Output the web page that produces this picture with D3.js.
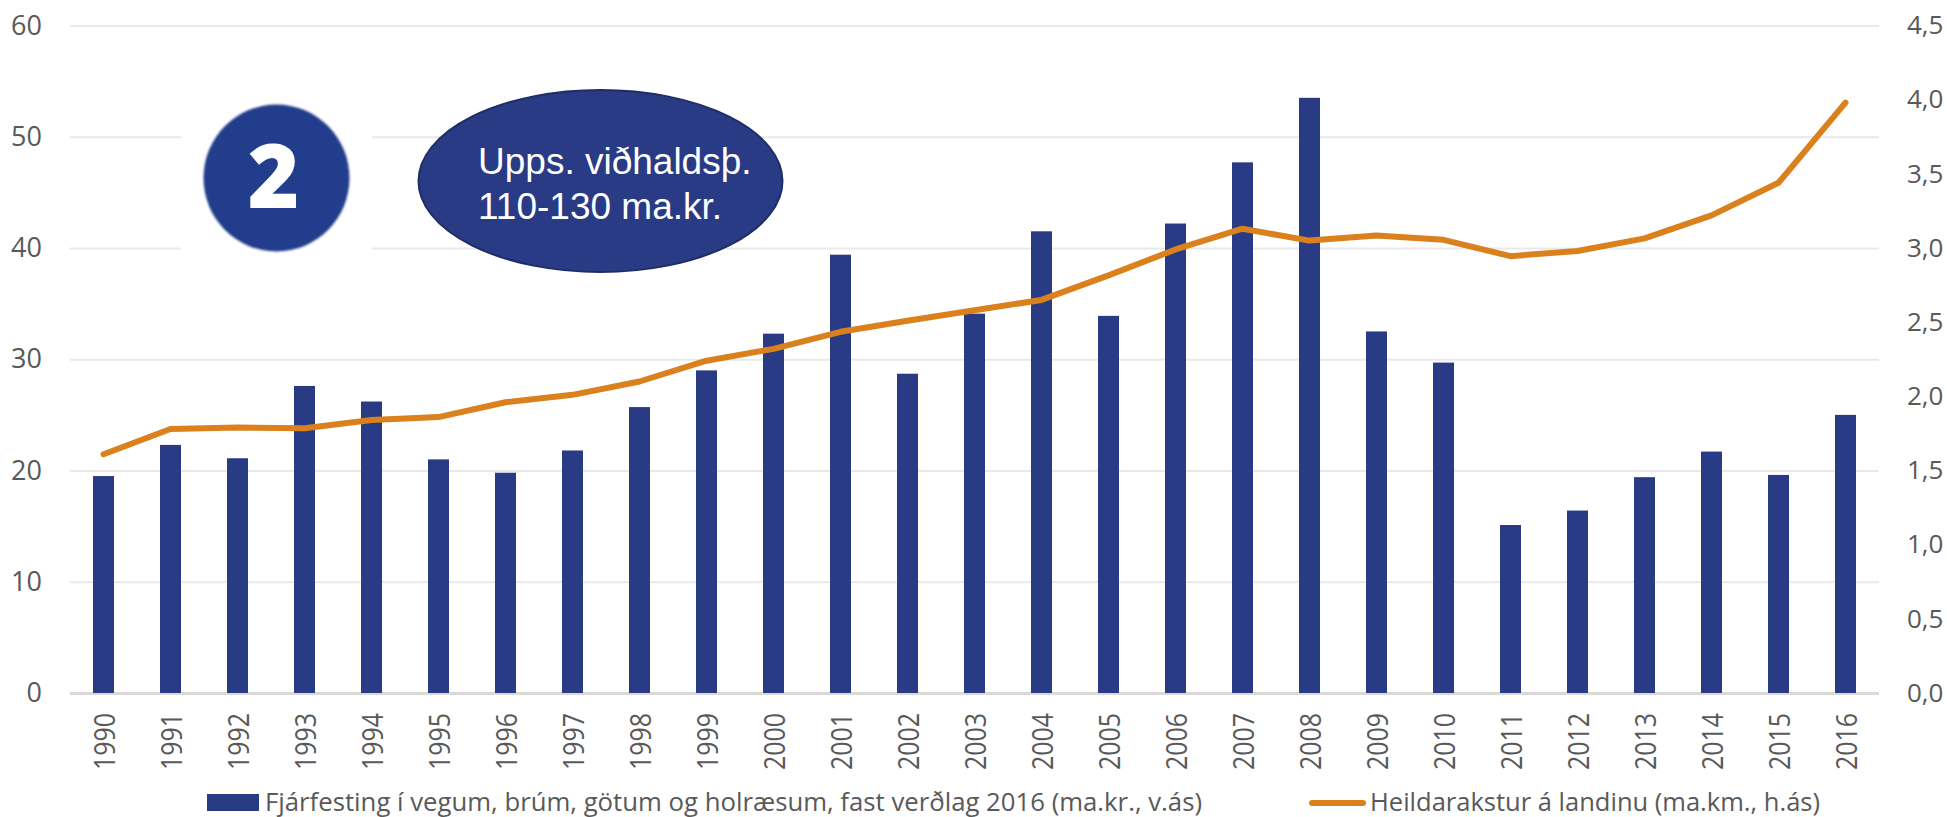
<!DOCTYPE html>
<html>
<head>
<meta charset="utf-8">
<script src="https://cdnjs.cloudflare.com/ajax/libs/d3/7.8.5/d3.min.js"></script>
<style>
  html, body { margin: 0; padding: 0; background: #fff; }
  svg { display: block; }
  text { font-family: "Open Sans", sans-serif; fill: #595959; }
</style>
</head>
<body>
<div id="chart"></div>
<script>
// Chart data
const years = ["1990", "1991", "1992", "1993", "1994", "1995", "1996", "1997", "1998", "1999", "2000", "2001", "2002", "2003", "2004", "2005", "2006", "2007", "2008", "2009", "2010", "2011", "2012", "2013", "2014", "2015", "2016"];
const investment = [19.5, 22.3, 21.1, 27.6, 26.2, 21.0, 19.8, 21.8, 25.7, 29.0, 32.3, 39.4, 28.7, 34.1, 41.5, 33.9, 42.2, 47.7, 53.5, 32.5, 29.7, 15.1, 16.4, 19.4, 21.7, 19.6, 25.0];
const traffic = [1.61, 1.78, 1.79, 1.785, 1.84, 1.86, 1.96, 2.01, 2.10, 2.24, 2.32, 2.435, 2.51, 2.58, 2.65, 2.815, 2.99, 3.13, 3.05, 3.085, 3.055, 2.945, 2.98, 3.065, 3.22, 3.44, 3.98];
const leftTicks = [0, 10, 20, 30, 40, 50, 60];
const rightTicks = [0, 0.5, 1, 1.5, 2, 2.5, 3, 3.5, 4, 4.5];
const barLabel = "Fjárfesting í vegum, brúm, götum og holræsum, fast verðlag 2016 (ma.kr., v.ás)";
const lineLabel = "Heildarakstur á landinu (ma.km., h.ás)";
const noteLines = ["Upps. viðhaldsþ.", "110-130 ma.kr."];

const width = 1947;
const height = 817;
const margin = { top: 25.5, right: 68, bottom: 124, left: 70 };
const innerWidth = width - margin.left - margin.right;
const innerHeight = height - margin.top - margin.bottom;

const svg = d3.select("#chart").append("svg")
    .attr("width", width)
    .attr("height", height);

svg.append("defs").append("filter")
    .attr("id", "soft")
    .append("feGaussianBlur")
    .attr("stdDeviation", 1);

const g = svg.append("g")
    .attr("transform", `translate(${margin.left},${margin.top})`);

const x = d3.scaleBand().domain(years).range([0, innerWidth]);
const yLeft = d3.scaleLinear().domain([0, 60]).range([innerHeight, 0]);
const yRight = d3.scaleLinear().domain([0, 4.5]).range([innerHeight, 0]);

// Gridlines and left axis
g.append("g")
    .call(d3.axisLeft(yLeft).tickValues(leftTicks).tickSize(-innerWidth).tickPadding(28))
    .call(a => a.select(".domain").remove())
    .call(a => a.selectAll(".tick line")
        .attr("stroke", d => d === 0 ? "#d9d9d9" : "#e9e9e9")
        .attr("stroke-width", d => d === 0 ? 3 : 2))
    .call(a => a.selectAll("text").style("font-size", "27px").attr("fill", "#595959"));

// Right axis
g.append("g")
    .attr("transform", `translate(${innerWidth},0)`)
    .call(d3.axisRight(yRight).tickValues(rightTicks).tickSize(0).tickPadding(28)
        .tickFormat(d => d.toFixed(1).replace(".", ",")))
    .call(a => a.select(".domain").remove())
    .call(a => a.selectAll("text").style("font-size", "26px").attr("fill", "#595959"));

// Year labels, squeezed along their length like the original
g.append("g")
    .attr("transform", `translate(0,${innerHeight})`)
    .call(d3.axisBottom(x).tickSize(0).tickPadding(0))
    .call(a => a.select(".domain").remove())
    .call(a => a.selectAll("text")
        .style("font-size", "29px")
        .attr("fill", "#595959")
        .attr("text-anchor", "end")
        .attr("dy", "0.36em")
        .attr("transform", "translate(1,20) rotate(-90) scale(0.86,1)")
        .attr("y", 0));

// White patch behind the pasted number badge
svg.append("rect")
    .attr("x", 181).attr("y", 90)
    .attr("width", 191).attr("height", 175)
    .attr("fill", "#fff");

svg.append("ellipse")
    .attr("cx", 276.5).attr("cy", 178)
    .attr("rx", 73).attr("ry", 73.5)
    .attr("fill", "#233e8b")
    .attr("filter", "url(#soft)");

svg.append("text")
    .attr("x", 273.5).attr("y", 208)
    .attr("text-anchor", "middle")
    .style("font-size", "88px")
    .style("font-weight", 800)
    .style("fill", "#fff")
    .text("2");

// Bars
const barWidth = 21;
g.selectAll(".bar")
    .data(investment)
    .enter()
    .append("rect")
    .attr("class", "bar")
    .attr("x", (d, i) => x(years[i]) + x.bandwidth() / 2 - barWidth / 2)
    .attr("y", d => yLeft(d))
    .attr("width", barWidth)
    .attr("height", d => innerHeight - yLeft(d))
    .attr("fill", "#293b85");

// Baseline sits on top of the bar feet
g.append("line")
    .attr("x1", 0).attr("x2", innerWidth)
    .attr("y1", innerHeight + 1).attr("y2", innerHeight + 1)
    .attr("stroke", "#d9d9d9")
    .attr("stroke-width", 2);

// Traffic line
const line = d3.line()
    .x((d, i) => x(years[i]) + x.bandwidth() / 2)
    .y(d => yRight(d));

g.append("path")
    .datum(traffic)
    .attr("d", line)
    .attr("fill", "none")
    .attr("stroke", "#da801c")
    .attr("stroke-width", 6)
    .attr("stroke-linecap", "round")
    .attr("stroke-linejoin", "round");

// Note ellipse
svg.append("ellipse")
    .attr("cx", 600.5).attr("cy", 181)
    .attr("rx", 182).attr("ry", 91)
    .attr("fill", "#293b85")
    .attr("stroke", "#1f2d66")
    .attr("stroke-width", 2);

svg.selectAll(".note")
    .data(noteLines)
    .enter()
    .append("text")
    .attr("class", "note")
    .attr("x", 478)
    .attr("y", (d, i) => 174 + i * 45)
    .style("font-family", '"Liberation Sans", sans-serif')
    .style("font-size", "37px")
    .style("fill", "#fff")
    .text(d => d);

// Legend
svg.append("rect")
    .attr("x", 207).attr("y", 794)
    .attr("width", 52).attr("height", 17)
    .attr("fill", "#293b85");

svg.append("text")
    .attr("x", 265).attr("y", 811)
    .attr("textLength", 937)
    .attr("lengthAdjust", "spacingAndGlyphs")
    .style("font-size", "25px")
    .text(barLabel);

svg.append("line")
    .attr("x1", 1312).attr("x2", 1363)
    .attr("y1", 803).attr("y2", 803)
    .attr("stroke", "#da801c")
    .attr("stroke-width", 6)
    .attr("stroke-linecap", "round");

svg.append("text")
    .attr("x", 1370).attr("y", 811)
    .attr("textLength", 450)
    .attr("lengthAdjust", "spacingAndGlyphs")
    .style("font-size", "25px")
    .text(lineLabel);
</script>
</body>
</html>
